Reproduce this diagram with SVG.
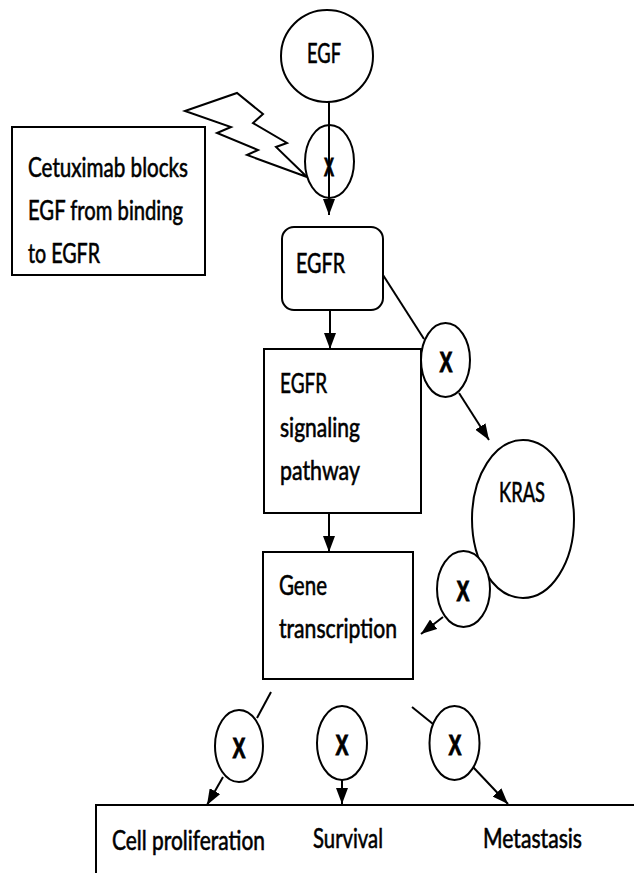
<svg xmlns="http://www.w3.org/2000/svg" width="634" height="873" viewBox="0 0 634 873">
  <style>
    .shape { fill: #ffffff; stroke: #000000; stroke-width: 2; }
    .line { fill: none; stroke: #000000; stroke-width: 2; }
    .label { font-family: Lato, "Open Sans", "Liberation Sans", sans-serif; font-size: 27px; fill: #000000; stroke: #000000; stroke-width: 0.6; }
    .x { font-family: "Liberation Sans", Lato, sans-serif; font-weight: bold; font-size: 30px; fill: #000000; stroke: #000000; stroke-width: 1; text-anchor: middle; }
  </style>
  <defs>
    <marker id="arrow" viewBox="0 0 16 12" refX="16" refY="6" markerWidth="16" markerHeight="12" orient="auto" markerUnits="userSpaceOnUse">
      <path d="M0,0 L16,6 L0,12 z" fill="#000000"/>
    </marker>
  </defs>

  <rect width="634" height="873" fill="#ffffff"/>

  <!-- connectors -->
  <g id="connectors">
    <line class="line" x1="329" y1="102" x2="329" y2="215" marker-end="url(#arrow)"/>
    <line class="line" x1="330" y1="310" x2="330" y2="349" marker-end="url(#arrow)"/>
    <line class="line" x1="383" y1="275" x2="424" y2="339"/>
    <line class="line" x1="459" y1="393" x2="489" y2="440" marker-end="url(#arrow)"/>
    <line class="line" x1="329" y1="513" x2="329" y2="552" marker-end="url(#arrow)"/>
    <line class="line" x1="443" y1="617" x2="421" y2="634" marker-end="url(#arrow)"/>
    <line class="line" x1="271" y1="692" x2="257" y2="718"/>
    <line class="line" x1="223" y1="777" x2="207" y2="805" marker-end="url(#arrow)"/>
    <line class="line" x1="342" y1="780" x2="342" y2="804" marker-end="url(#arrow)"/>
    <line class="line" x1="412" y1="707" x2="433" y2="724"/>
    <line class="line" x1="473" y1="767" x2="508" y2="804" marker-end="url(#arrow)"/>
  </g>

  <!-- EGF ligand -->
  <g id="egf">
    <ellipse class="shape" cx="327" cy="56" rx="46" ry="46"/>
    <text class="label" x="307" y="63" textLength="34" lengthAdjust="spacingAndGlyphs">EGF</text>
  </g>

  <!-- cetuximab callout with lightning bolt -->
  <g id="cetuximab">
    <rect class="shape" x="12" y="127" width="193" height="148"/>
    <text class="label" x="28" y="177" textLength="160" lengthAdjust="spacingAndGlyphs">Cetuximab blocks</text>
    <text class="label" x="28" y="220" textLength="155" lengthAdjust="spacingAndGlyphs">EGF from binding</text>
    <text class="label" x="28" y="263" textLength="72" lengthAdjust="spacingAndGlyphs">to EGFR</text>
    <polygon class="shape" points="185,111 237,93 263,114 253,123 287,143 276,147 307,177 247,155 258,150 217,133 231,127"/>
  </g>

  <!-- binding blocked -->
  <g id="block-egf">
    <ellipse class="line" cx="329.5" cy="161.5" rx="24.5" ry="36.5"/>
    <text class="x" x="329" y="176" textLength="10" lengthAdjust="spacingAndGlyphs" style="font-size:26px">X</text>
  </g>

  <!-- receptor -->
  <g id="egfr">
    <rect class="shape" x="282" y="227" width="101" height="83" rx="12" ry="12"/>
    <text class="label" x="296" y="273" textLength="49" lengthAdjust="spacingAndGlyphs">EGFR</text>
  </g>

  <!-- signaling pathway -->
  <g id="signaling">
    <rect class="shape" x="264" y="349" width="157" height="164"/>
    <text class="label" x="280" y="393" textLength="47" lengthAdjust="spacingAndGlyphs">EGFR</text>
    <text class="label" x="280" y="437" textLength="80" lengthAdjust="spacingAndGlyphs">signaling</text>
    <text class="label" x="280" y="480" textLength="80" lengthAdjust="spacingAndGlyphs">pathway</text>
  </g>

  <!-- block EGFR to KRAS -->
  <g id="block-kras">
    <ellipse class="shape" cx="445.5" cy="360" rx="24.5" ry="37"/>
    <text class="x" x="446" y="372" textLength="13" lengthAdjust="spacingAndGlyphs">X</text>
  </g>

  <!-- KRAS -->
  <g id="kras">
    <ellipse class="shape" cx="523" cy="519" rx="51" ry="79"/>
    <text class="label" x="499" y="502" textLength="46" lengthAdjust="spacingAndGlyphs">KRAS</text>
  </g>

  <!-- block KRAS to transcription -->
  <g id="block-kras-out">
    <ellipse class="shape" cx="463.5" cy="589" rx="26.5" ry="38"/>
    <text class="x" x="463" y="601" textLength="13" lengthAdjust="spacingAndGlyphs">X</text>
  </g>

  <!-- gene transcription -->
  <g id="transcription">
    <rect class="shape" x="263" y="552" width="150" height="127"/>
    <text class="label" x="279" y="595" textLength="48" lengthAdjust="spacingAndGlyphs">Gene</text>
    <text class="label" x="279" y="638" textLength="118" lengthAdjust="spacingAndGlyphs">transcription</text>
  </g>

  <!-- blocked outcomes -->
  <g id="block-proliferation">
    <ellipse class="shape" cx="239" cy="746" rx="24" ry="36"/>
    <text class="x" x="239" y="758" textLength="13" lengthAdjust="spacingAndGlyphs">X</text>
  </g>
  <g id="block-survival">
    <ellipse class="shape" cx="342" cy="743" rx="25" ry="37"/>
    <text class="x" x="342" y="755" textLength="13" lengthAdjust="spacingAndGlyphs">X</text>
  </g>
  <g id="block-metastasis">
    <ellipse class="shape" cx="454.5" cy="743" rx="25" ry="37"/>
    <text class="x" x="455" y="755" textLength="13" lengthAdjust="spacingAndGlyphs">X</text>
  </g>

  <!-- outcomes -->
  <g id="outcomes">
    <rect class="shape" x="96" y="805" width="600" height="120"/>
    <text class="label" x="112" y="850" textLength="153" lengthAdjust="spacingAndGlyphs">Cell proliferation</text>
    <text class="label" x="313" y="848" textLength="70" lengthAdjust="spacingAndGlyphs">Survival</text>
    <text class="label" x="483" y="848" textLength="99" lengthAdjust="spacingAndGlyphs">Metastasis</text>
  </g>
</svg>
